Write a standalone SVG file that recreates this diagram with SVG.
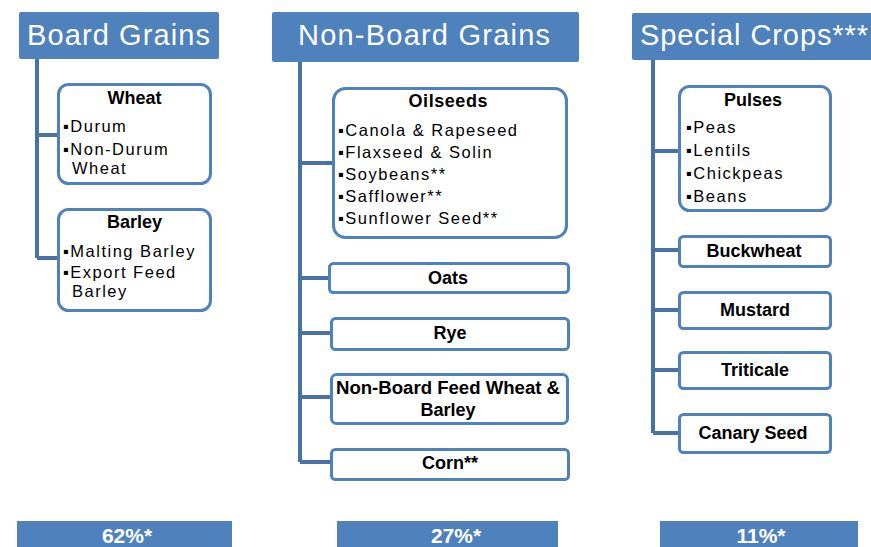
<svg xmlns="http://www.w3.org/2000/svg" width="871" height="547" viewBox="0 0 871 547">
<style>
.hdr{fill:#4F81BD;}
.hdrt{fill:#fff;font-family:"Liberation Sans",Arial,sans-serif;font-size:29px;}
.box{fill:#fff;stroke:#4F81BD;stroke-width:3;}
.ttl{fill:#000;font-family:"Liberation Sans",Arial,sans-serif;font-size:18px;font-weight:bold;text-anchor:middle;}
.body{fill:#000;font-family:"Liberation Sans",Arial,sans-serif;font-size:16.5px;letter-spacing:1.5px;}
.conn{fill:none;stroke:#4672A8;stroke-width:4;}
.pct{fill:#fff;font-family:"Liberation Sans",Arial,sans-serif;font-size:21px;font-weight:bold;text-anchor:middle;}
</style>
<rect width="871" height="547" fill="#fff"/>
<g id="connectors">
<path class="conn" d="M37 59V258M37 135H57M37 258H57"/>
<path class="conn" d="M300 62V462M300 163H332M300 278H328M300 333H330M300 397H330M300 462H330"/>
<path class="conn" d="M653 60V433M653 151H678M653 250H678M653 310H678M653 370H678M653 433H678"/>
</g>
<g id="board-grains">
<rect class="hdr" x="19" y="12" width="200" height="47" rx="2"/>
<text class="hdrt" x="27" y="45" textLength="183" lengthAdjust="spacing">Board Grains</text>
</g>
<g id="wheat">
<rect class="box" x="58.5" y="84.5" width="152" height="99" rx="10"/>
<text class="ttl" x="134.5" y="104">Wheat</text>
<text class="body" x="63" y="132">▪Durum</text>
<text class="body" x="63" y="155">▪Non-Durum</text>
<text class="body" x="72" y="174">Wheat</text>
</g>
<g id="barley">
<rect class="box" x="58.5" y="209.5" width="152" height="101" rx="10"/>
<text class="ttl" x="134.5" y="228">Barley</text>
<text class="body" x="63" y="257">▪Malting Barley</text>
<text class="body" x="63" y="278">▪Export Feed</text>
<text class="body" x="72" y="297">Barley</text>
</g>
<g id="non-board-grains">
<rect class="hdr" x="272" y="12" width="307" height="50" rx="2"/>
<text class="hdrt" x="298" y="45" textLength="252" lengthAdjust="spacing">Non-Board Grains</text>
</g>
<g id="oilseeds">
<rect class="box" x="333.5" y="88.5" width="233" height="149" rx="12"/>
<text class="ttl" x="448" y="107" textLength="79" lengthAdjust="spacing">Oilseeds</text>
<text class="body" x="338" y="136">▪Canola &amp; Rapeseed</text>
<text class="body" x="338" y="158">▪Flaxseed &amp; Solin</text>
<text class="body" x="338" y="180">▪Soybeans**</text>
<text class="body" x="338" y="202">▪Safflower**</text>
<text class="body" x="338" y="224">▪Sunflower Seed**</text>
</g>
<g id="oats">
<rect class="box" x="329.5" y="263.5" width="239" height="29" rx="4"/>
<text class="ttl" x="448" y="284">Oats</text>
</g>
<g id="rye">
<rect class="box" x="331.5" y="318.5" width="237" height="31" rx="4"/>
<text class="ttl" x="450" y="339">Rye</text>
</g>
<g id="non-board-feed">
<rect class="box" x="331.5" y="374.5" width="236" height="49" rx="5"/>
<text class="ttl" x="448" y="394" textLength="224" lengthAdjust="spacingAndGlyphs">Non-Board Feed Wheat &amp;</text>
<text class="ttl" x="448" y="416">Barley</text>
</g>
<g id="corn">
<rect class="box" x="331.5" y="449.5" width="237" height="30" rx="4"/>
<text class="ttl" x="450" y="469">Corn**</text>
</g>
<g id="special-crops">
<rect class="hdr" x="632" y="13" width="242" height="47" rx="2"/>
<text class="hdrt" x="640" y="45" textLength="228" lengthAdjust="spacing">Special Crops***</text>
</g>
<g id="pulses">
<rect class="box" x="679.5" y="86.5" width="151" height="124" rx="10"/>
<text class="ttl" x="753" y="106">Pulses</text>
<text class="body" x="686" y="133">▪Peas</text>
<text class="body" x="686" y="156">▪Lentils</text>
<text class="body" x="686" y="179">▪Chickpeas</text>
<text class="body" x="686" y="202">▪Beans</text>
</g>
<g id="buckwheat">
<rect class="box" x="679.5" y="236.5" width="151" height="30" rx="4"/>
<text class="ttl" x="754" y="257">Buckwheat</text>
</g>
<g id="mustard">
<rect class="box" x="679.5" y="292.5" width="151" height="36" rx="4"/>
<text class="ttl" x="755" y="316">Mustard</text>
</g>
<g id="triticale">
<rect class="box" x="679.5" y="352.5" width="151" height="36" rx="4"/>
<text class="ttl" x="755" y="376">Triticale</text>
</g>
<g id="canary-seed">
<rect class="box" x="679.5" y="414.5" width="151" height="38" rx="4"/>
<text class="ttl" x="753" y="439">Canary Seed</text>
</g>
<g id="pct-board">
<rect class="hdr" x="17" y="521" width="215" height="30"/>
<text class="pct" x="127" y="543">62%*</text>
</g>
<g id="pct-nonboard">
<rect class="hdr" x="337" y="521" width="221" height="30"/>
<text class="pct" x="456" y="543">27%*</text>
</g>
<g id="pct-special">
<rect class="hdr" x="660" y="521" width="198" height="30"/>
<text class="pct" x="761" y="543">11%*</text>
</g>
</svg>
